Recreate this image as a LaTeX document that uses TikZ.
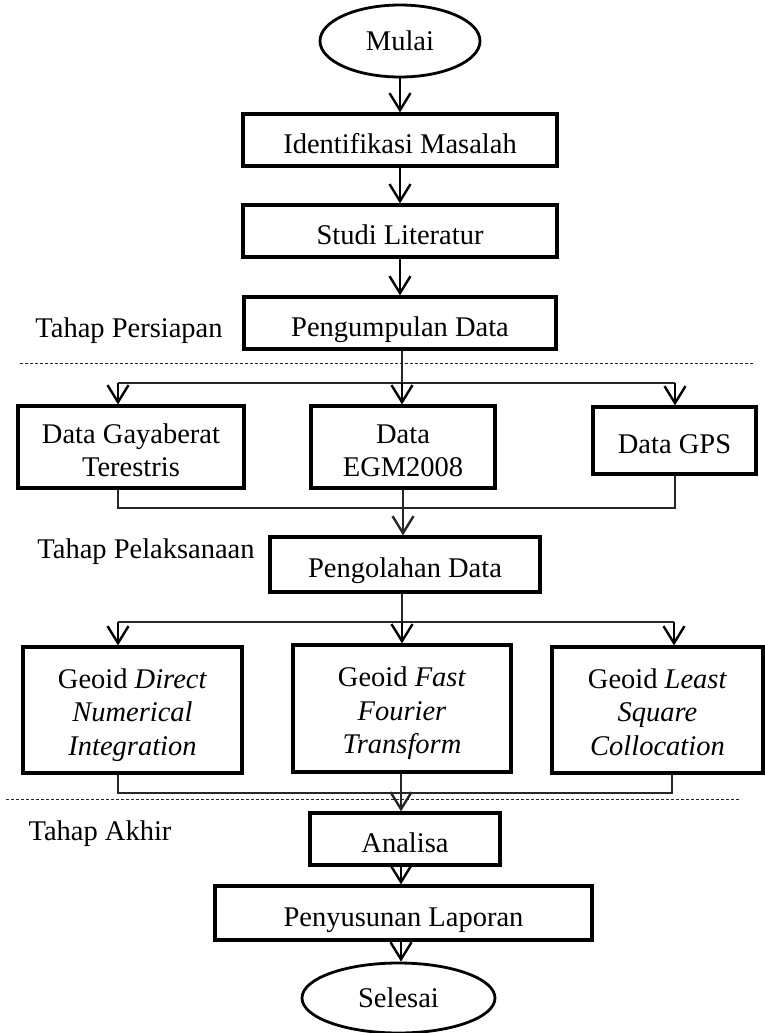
\documentclass[tikz,border=0pt]{standalone}
\usepackage{fontspec}
\setmainfont{Liberation Serif}
\usetikzlibrary{arrows.meta,shapes.geometric}

\newcommand{\flowfont}{\fontsize{28.5}{33.5}\selectfont}

% text height/depth keep the text a bit below the middle of each box
\tikzset{
  box/.style={draw, line width=3.2pt, inner sep=0pt, align=center, font=\flowfont,
    text height=34pt, text depth=8pt},
  twoline/.style={text height=67.5pt},
  threeline/.style={text height=98pt},
  term/.style={draw, ellipse, line width=2.8pt, inner sep=0pt, font=\flowfont},
  phase/.style={inner sep=0pt, anchor=base, font=\flowfont},
  tip/.style={-{Straight Barb[length=17pt,width=21pt,line width=2.4pt]}},
  arrow/.style={line width=2pt, tip},
  link/.style={line width=1.4pt, draw=black!85},
  linkarrow/.style={link, tip},
  sepline/.style={line width=1pt, draw=black!85, dash pattern=on 3pt off 2pt},
}

\begin{document}
\begin{tikzpicture}[x=1pt, y=-1pt]
		\useasboundingbox (0,0) rectangle (764,1033);
		
		% Start and first steps
		\node[term, minimum width=160pt, minimum height=72pt] (mulai) at (400,41) {Mulai};
		\node[box, minimum width=314pt, minimum height=52pt] (ident) at (400,140) {Identifikasi Masalah};
		\node[box, minimum width=314pt, minimum height=52pt] (studi) at (400,231) {Studi Literatur};
		\node[box, minimum width=312pt, minimum height=52pt] (kumpul) at (400,323) {Pengumpulan Data};
		\node[phase] (persiapan) at (129,337) {Tahap Persiapan};
		
		\draw[arrow] (mulai) -- (ident);
		\draw[arrow] (ident) -- (studi);
		\draw[arrow] (studi) -- (kumpul);
		
		% Separator after preparation stage
		\draw[sepline] (20,363) -- (754,363);
		
		% Input data
		\node[box, twoline, minimum width=226pt, minimum height=82pt] (gaya) at (131,447) {Data Gayaberat\\Terestris};
		\node[box, twoline, minimum width=184pt, minimum height=82pt] (egm) at (403,447) {Data\\EGM2008};
		\node[box, minimum width=163pt, minimum height=67pt] (gps) at (674.5,440.5) {Data GPS};
		
		% Split to the data boxes
		\coordinate (split1) at (402,383);
		\coordinate (s1l) at (118,383);
		\coordinate (s1r) at (675,383);
		\draw[link] (kumpul.south -| split1) -- (split1);
		\draw[link] (s1l) -- (s1r);
		\foreach \c/\n in {s1l/gaya, split1/egm, s1r/gps}
		\draw[arrow] (\c) -- (\c |- \n.north);
		
		% Processing
		\node[box, minimum width=270pt, minimum height=55pt] (olah) at (405,564.5) {Pengolahan Data};
		\node[phase] (pelaksanaan) at (146,558) {Tahap Pelaksanaan};
		
		% Join the data boxes
		\coordinate (join1) at (403,508);
		\coordinate (j1l) at (118,508);
		\coordinate (j1r) at (675,508);
		\draw[link] (gaya.south -| j1l) -- (j1l) -- (j1r) -- (gps.south -| j1r);
		\draw[link] (egm.south -| join1) -- (join1);
		\draw[linkarrow] (join1) -- (join1 |- olah.north);
		
		% Geoid methods
		\node[box, threeline, minimum width=219pt, minimum height=126pt] (dni) at (132.5,710) {Geoid \textit{Direct}\\\textit{Numerical}\\\textit{Integration}};
		\node[box, threeline, minimum width=218pt, minimum height=127pt] (fft) at (402,708.5) {Geoid \textit{Fast}\\\textit{Fourier}\\\textit{Transform}};
		\node[box, threeline, minimum width=211pt, minimum height=126pt] (lsc) at (657.5,710) {Geoid \textit{Least}\\\textit{Square}\\\textit{Collocation}};
		
		% Split to the methods
		\coordinate (split2) at (402,622);
		\coordinate (s2l) at (118,622);
		\coordinate (s2r) at (674,622);
		\draw[link] (olah.south -| split2) -- (split2);
		\draw[link] (s2l) -- (s2r);
		\foreach \c/\n in {s2l/dni, split2/fft, s2r/lsc}
		\draw[arrow] (\c) -- (\c |- \n.north);
		
		% Final stage
		\node[box, minimum width=190pt, minimum height=52pt] (analisa) at (405,839) {Analisa};
		\node[box, minimum width=377pt, minimum height=54pt] (susun) at (403.5,913) {Penyusunan Laporan};
		\node[term, minimum width=193pt, minimum height=70pt] (selesai) at (398.5,998) {Selesai};
		\node[phase] (akhir) at (100,840) {Tahap Akhir};
		
		% Join the methods
		\coordinate (join2) at (401,793);
		\coordinate (j2l) at (118,793);
		\coordinate (j2r) at (672,793);
		\draw[link] (dni.south -| j2l) -- (j2l) -- (j2r) -- (lsc.south -| j2r);
		\draw[linkarrow] (fft.south -| join2) -- (join2 |- analisa.north);
		
		% Separator before final stage
		\draw[sepline] (6,799) -- (741,799);
		
		\draw[arrow] (analisa.south -| join2) -- (join2 |- susun.north);
		\draw[arrow] (susun.south -| join2) -- (join2 |- selesai.north);
	\end{tikzpicture}
\end{document}
